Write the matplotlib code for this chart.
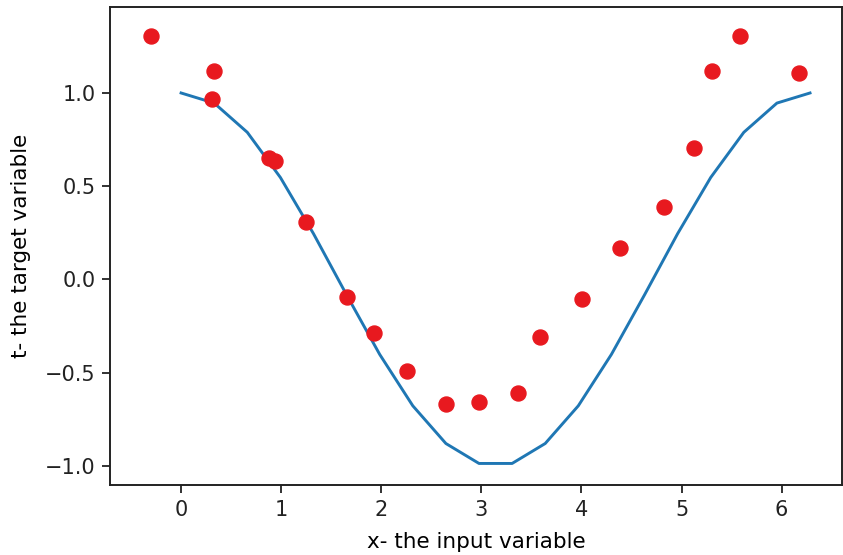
import matplotlib
matplotlib.use("Agg")
import matplotlib.pyplot as plt

# model curve sampled at 20 points over one period
x_line = [0.0, 0.3307, 0.6614, 0.9921, 1.3228, 1.6535, 1.9842, 2.3149, 2.6456, 2.9762,
          3.3069, 3.6376, 3.9683, 4.2990, 4.6297, 4.9604, 5.2911, 5.6218, 5.9525, 6.2832]
t_line = [1.0, 0.9458, 0.7891, 0.5469, 0.2455, -0.0826, -0.4017, -0.6773, -0.8795, -0.9864,
          -0.9864, -0.8795, -0.6773, -0.4017, -0.0826, 0.2455, 0.5469, 0.7891, 0.9458, 1.0]

# noisy observations
x_obs = [-0.30, 0.33, 0.31, 0.88, 0.94, 1.25, 1.66, 1.93, 2.255, 2.65,
         2.98, 3.37, 3.59, 4.01, 4.38, 4.82, 5.12, 5.30, 5.58, 6.17]
t_obs = [1.307, 1.12, 0.968, 0.65, 0.635, 0.307, -0.092, -0.289, -0.49, -0.668,
         -0.659, -0.61, -0.307, -0.105, 0.167, 0.39, 0.707, 1.12, 1.307, 1.109]

x_ticks = [0, 1, 2, 3, 4, 5, 6]
y_ticks = [-1.0, -0.5, 0.0, 0.5, 1.0]

plt.rcParams["font.family"] = "DejaVu Sans"

fig = plt.figure(figsize=(8.43, 5.55), dpi=100)
ax = fig.add_axes([0.1305, 0.1261, 0.868, 0.8613])

ax.plot(x_line, t_line, color="#1f77b4", linewidth=2.1)
ax.plot(x_obs, t_obs, "o", color="#e8191f", markersize=10.8, linestyle="none")

ax.set_xlim(-0.71, 6.60)
ax.set_ylim(-1.102, 1.461)
ax.set_xticks(x_ticks)
ax.set_yticks(y_ticks)
ax.tick_params(length=5.5, width=1.3, pad=5, labelsize=15, colors="#222222")
for sp in ax.spines.values():
    sp.set_linewidth(1.4)
    sp.set_color("#222222")

ax.set_xlabel("x- the input variable", fontsize=15.5, labelpad=9)
ax.set_ylabel("t- the target variable", fontsize=15.5, labelpad=10)

fig.savefig("out.png", dpi=100)
